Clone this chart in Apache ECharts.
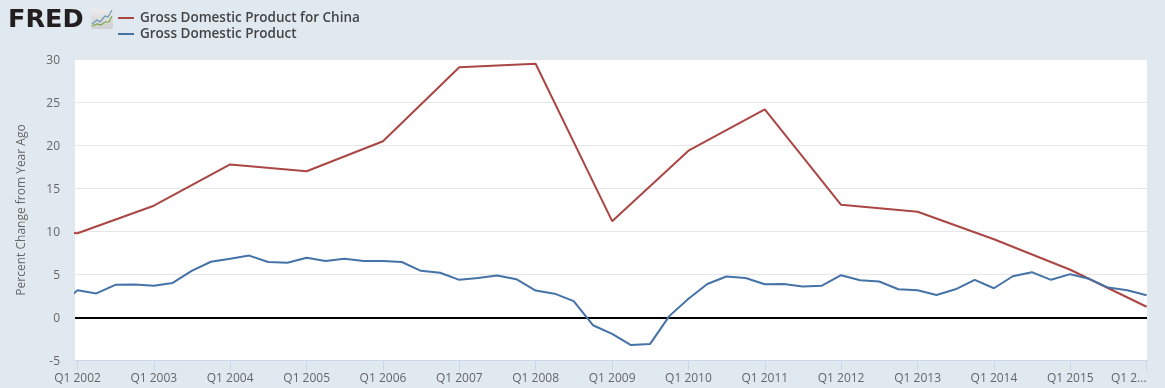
<!DOCTYPE html>
<html>
<head>
<meta charset="utf-8">
<style>html,body{margin:0;padding:0;background:#e1e9f0}#c{width:1165px;height:388px}</style>
<script src="https://cdn.jsdelivr.net/npm/echarts@6/dist/echarts.min.js"></script>
</head>
<body>
<div id="c"></div>
<script>
const chinaDates = ['2001-01-01','2002-01-01','2003-01-01','2004-01-01','2005-01-01','2006-01-01','2007-01-01','2008-01-01','2009-01-01','2010-01-01','2011-01-01','2012-01-01','2013-01-01','2014-01-01','2015-01-01','2016-01-01'];
const chinaValues = [10.5,9.8,13.0,17.8,17.0,20.5,29.1,29.5,11.2,19.4,24.2,13.1,12.3,9.1,5.55,1.25];
const usDates = ['2001-10-01',
 '2002-01-01','2002-04-01','2002-07-01','2002-10-01',
 '2003-01-01','2003-04-01','2003-07-01','2003-10-01',
 '2004-01-01','2004-04-01','2004-07-01','2004-10-01',
 '2005-01-01','2005-04-01','2005-07-01','2005-10-01',
 '2006-01-01','2006-04-01','2006-07-01','2006-10-01',
 '2007-01-01','2007-04-01','2007-07-01','2007-10-01',
 '2008-01-01','2008-04-01','2008-07-01','2008-10-01',
 '2009-01-01','2009-04-01','2009-07-01','2009-10-01',
 '2010-01-01','2010-04-01','2010-07-01','2010-10-01',
 '2011-01-01','2011-04-01','2011-07-01','2011-10-01',
 '2012-01-01','2012-04-01','2012-07-01','2012-10-01',
 '2013-01-01','2013-04-01','2013-07-01','2013-10-01',
 '2014-01-01','2014-04-01','2014-07-01','2014-10-01',
 '2015-01-01','2015-04-01','2015-07-01','2015-10-01',
 '2016-01-01'];
const usValues = [1.3,
 3.16,2.8,3.8,3.83,
 3.7,4.02,5.43,6.48,
 6.84,7.2,6.45,6.37,
 6.95,6.56,6.84,6.56,
 6.56,6.45,5.43,5.2,
 4.38,4.6,4.88,4.45,
 3.13,2.77,1.91,-0.9,
 -1.91,-3.2,-3.09,0.16,
 2.19,3.9,4.77,4.6,
 3.87,3.9,3.6,3.7,
 4.92,4.34,4.18,3.28,
 3.16,2.62,3.28,4.38,
 3.4,4.8,5.27,4.38,
 5.04,4.5,3.48,3.16,
 2.58];
const tickDates = ['2002-01-01','2003-01-01','2004-01-01','2005-01-01','2006-01-01','2007-01-01','2008-01-01','2009-01-01','2010-01-01','2011-01-01','2012-01-01','2013-01-01','2014-01-01','2015-01-01','2016-01-01'];
const seriesNames = ['Gross Domestic Product for China','Gross Domestic Product'];
const yTitle = 'Percent Change from Year Ago';
const ms = d=>Date.parse(d+'T00:00:00Z');
const zip = (a,b)=>a.map((d,i)=>[ms(d),b[i]]);
const tickTimes = tickDates.map(ms);
const font = '"Open Sans"';
const chart = echarts.init(document.getElementById('c'));
chart.setOption({
  animation:false,
  backgroundColor:'#e1e9f0',
  grid:{left:75,right:18,top:59.5,bottom:27.5,show:true,backgroundColor:'#fff',borderWidth:0},
  legend:{
    orient:'vertical',left:118,top:11,itemWidth:16,itemHeight:2,itemGap:2,padding:0,
    icon:'rect',
    textStyle:{fontFamily:font,fontSize:13.5,fontWeight:600,color:'#444',padding:[0,0,0,1],lineHeight:14},
    data:seriesNames
  },
  xAxis:{
    type:'value',
    min:ms('2001-12-20'),max:ms('2016-01-03'),
    axisLine:{onZero:false,lineStyle:{color:'#ccd6eb',width:1}},
    axisTick:{show:true,length:10,customValues:tickTimes,lineStyle:{color:'#ccd6eb',width:1}},
    splitLine:{show:false},
    axisLabel:{
      customValues:tickTimes,
      showMaxLabel:true,showMinLabel:true,alignMaxLabel:'right',hideOverlap:false,
      fontFamily:font,fontSize:12,color:'#666',margin:12,
      formatter:(v)=>{const y=new Date(v).getUTCFullYear();return y===2016?'Q1 2...':'Q1 '+y;}
    }
  },
  yAxis:{
    type:'value',min:-5,max:30,interval:5,
    name:yTitle,nameLocation:'middle',nameGap:47,
    nameTextStyle:{fontFamily:font,fontSize:12,color:'#666'},
    axisLine:{show:false},axisTick:{show:false},
    axisLabel:{fontFamily:font,fontSize:12,color:'#666',margin:15,formatter:'{a|{value}}',rich:{a:{fontFamily:font,fontSize:12,color:'#666',padding:[2,0,0,0]}}},
    splitLine:{lineStyle:{color:'#e6e6e6',width:1}}
  },
  series:[
    {name:seriesNames[0],type:'line',data:zip(chinaDates,chinaValues),showSymbol:false,symbol:'none',
     lineStyle:{color:'#aa4643',width:2},itemStyle:{color:'#aa4643'},z:2,
     markLine:{silent:true,symbol:'none',label:{show:false},lineStyle:{color:'#000',width:2,type:'solid'},data:[{yAxis:0}],z:1}},
    {name:seriesNames[1],type:'line',data:zip(usDates,usValues),showSymbol:false,symbol:'none',
     lineStyle:{color:'#4572a7',width:2},itemStyle:{color:'#4572a7'},z:3}
  ],
  graphic:[
    {type:'text',left:8,top:7,style:{text:'FRED',fontFamily:'"DejaVu Sans"',fontWeight:'bold',fontSize:25.5,fill:'#231f20'}},
    {type:'rect',shape:{x:91,y:9,width:22,height:20,r:2},style:{fill:new echarts.graphic.LinearGradient(0,0,0,1,[{offset:0,color:'#ececec'},{offset:1,color:'#cfcfcf'}])}},
    {type:'polyline',shape:{points:[[92,24],[97,20],[100,22],[105,16],[108,17],[112,10]]},style:{stroke:'#6b98bc',fill:null,lineWidth:1.2}},
    {type:'polyline',shape:{points:[[92,26],[97,24],[101,25],[105,22],[109,22],[112,16]]},style:{stroke:'#7aa84c',fill:null,lineWidth:1.2}}
  ]
});
</script>
</body>
</html>
